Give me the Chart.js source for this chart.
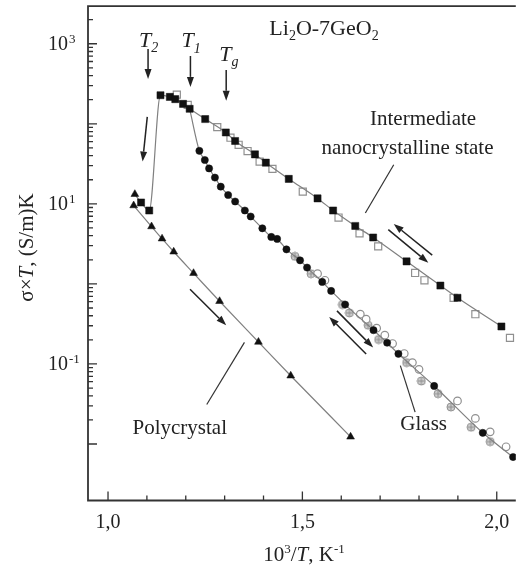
<!DOCTYPE html>
<html>
<head>
<meta charset="utf-8">
<script src="https://cdn.jsdelivr.net/npm/chart.js@4.4.0/dist/chart.umd.min.js"></script>
<style>
  body { margin: 0; background: #fff; }
</style>
</head>
<body>
<canvas id="chart" width="522" height="571"></canvas>
<script>
// Li2O-7GeO2 : sigma*T against 1000/T

// intermediate nanocrystalline state, heating (filled squares, with line)
// first point is the upper triangle where the transition curve starts
const heatSqX = [1.069, 1.085, 1.106, 1.135, 1.159, 1.173, 1.193, 1.210, 1.250, 1.303, 1.327, 1.378, 1.406, 1.465, 1.539, 1.579, 1.636, 1.682, 1.768, 1.855, 1.899, 2.012];
const heatSqY = [13.2, 10.4, 8.26, 227.5, 216.8, 203.2, 177.4, 153.8, 114.6, 78.0, 61.0, 41.5, 32.7, 20.5, 11.7, 8.26, 5.30, 3.80, 1.91, 0.953, 0.671, 0.294];

// intermediate state, cooling (open squares)
const coolSqX = [1.177, 1.205, 1.281, 1.315, 1.336, 1.359, 1.390, 1.423, 1.501, 1.593, 1.647, 1.695, 1.790, 1.814, 1.889, 1.945, 2.034];
const coolSqY = [231.7, 172.6, 91.0, 67.0, 54.7, 45.7, 33.7, 27.3, 14.2, 6.75, 4.27, 2.94, 1.37, 1.11, 0.671, 0.418, 0.212];

// glass (filled circles, with line) - line starts at the T1 square
const glassX = [1.210, 1.235, 1.249, 1.260, 1.275, 1.290, 1.309, 1.327, 1.352, 1.367, 1.397, 1.420, 1.435, 1.459, 1.494, 1.512, 1.551, 1.574, 1.610, 1.683, 1.718, 1.747, 1.839, 1.964, 2.042];
const glassY = [153.8, 46.0, 35.3, 27.7, 21.3, 16.4, 12.9, 10.7, 8.26, 6.95, 4.95, 3.86, 3.65, 2.70, 1.97, 1.60, 1.06, 0.817, 0.552, 0.264, 0.184, 0.134, 0.0531, 0.0138, 0.00687];

// glass, other runs (open circles and grey crossed circles)
const glassOpenX = [1.539, 1.558, 1.649, 1.664, 1.691, 1.712, 1.732, 1.762, 1.783, 1.800, 1.899, 1.945, 1.983, 2.024];
const glassOpenY = [1.34, 1.11, 0.418, 0.362, 0.280, 0.229, 0.180, 0.135, 0.104, 0.0857, 0.0345, 0.0209, 0.0142, 0.00923];
const glassHatchX = [1.481, 1.522, 1.603, 1.621, 1.669, 1.696, 1.768, 1.806, 1.849, 1.882, 1.934, 1.983];
const glassHatchY = [2.21, 1.34, 0.552, 0.434, 0.305, 0.202, 0.104, 0.0612, 0.0425, 0.0290, 0.0162, 0.0107];

// polycrystal (triangles, with line)
const polyX = [1.066, 1.112, 1.139, 1.169, 1.220, 1.287, 1.387, 1.470, 1.624];
const polyY = [9.53, 5.21, 3.67, 2.52, 1.36, 0.607, 0.188, 0.0713, 0.0123];

// axes
const xMin = 0.9485, xMax = 2.049;
const yMin = 0.00197, yMax = 2944;
const xTicks = [1.0, 1.1, 1.2, 1.3, 1.4, 1.5, 1.6, 1.7, 1.8, 1.9, 2.0];
const xLabelVals = [1.0, 1.5, 2.0];
const xLabelText = ['1,0', '1,5', '2,0'];
const yDecades = [-2, -1, 0, 1, 2, 3];
const yLabelExps = [3, 1, -1];

// annotations in data units: [x, log10(y)]
const arrowsData = [
  [1.103, 2.934, 1.103, 2.561],   // T2
  [1.212, 2.847, 1.212, 2.461],   // T1
  [1.304, 2.673, 1.304, 2.287],   // Tg
  [1.101, 2.087, 1.089, 1.529],   // down at T2
  [1.834, 0.359, 1.735, 0.749],   // intermediate, cooling
  [1.721, 0.679, 1.824, 0.264],   // intermediate, heating
  [1.664, -0.876, 1.569, -0.412], // glass, up
  [1.589, -0.337, 1.682, -0.794], // glass, down
  [1.211, -0.067, 1.304, -0.517]  // polycrystal
];
const pointerLines = [
  [1.735, 1.488, 1.662, 0.886],
  [1.351, -0.731, 1.254, -1.506],
  [1.752, -1.021, 1.790, -1.602]
];

const FAM = '"Liberation Serif", "Times New Roman", serif';
function font(size, italic) { return (italic ? 'italic ' : '') + size + 'px ' + FAM; }

// runs: [text, size, italic, dy]
function runsWidth(ctx, runs) {
  let w = 0;
  runs.forEach(r => { ctx.font = font(r[1], r[2]); w += ctx.measureText(r[0]).width; });
  return w;
}
function drawRuns(ctx, x, y, runs) {
  runs.forEach(r => {
    ctx.font = font(r[1], r[2]);
    ctx.fillText(r[0], x, y + (r[3] || 0));
    x += ctx.measureText(r[0]).width;
  });
}

const labels = [
  { x: 1.415, ly: 3.104, runs: [['Li', 22], ['2', 14, false, 5], ['O-7GeO', 22], ['2', 14, false, 5]] },
  { x: 1.080, ly: 2.959, runs: [['T', 22, true], ['2', 14, true, 5]] },
  { x: 1.189, ly: 2.955, runs: [['T', 22, true], ['1', 14, true, 6]] },
  { x: 1.286, ly: 2.790, runs: [['T', 22, true], ['g', 14, true, 5]] },
  { x: 1.674, ly: 1.989, runs: [['Intermediate', 21]] },
  { x: 1.549, ly: 1.628, runs: [['nanocrystalline state', 21]] },
  { x: 1.063, ly: -1.879, runs: [['Polycrystal', 21]] },
  { x: 1.752, ly: -1.830, runs: [['Glass', 21]] }
];

function arrow(ctx, x1, y1, x2, y2) {
  const a = Math.atan2(y2 - y1, x2 - x1);
  const L = 10, W = 3.5;
  const bx = x2 - L * Math.cos(a), by = y2 - L * Math.sin(a);
  ctx.beginPath(); ctx.moveTo(x1, y1); ctx.lineTo(bx, by); ctx.stroke();
  ctx.beginPath();
  ctx.moveTo(x2, y2);
  ctx.lineTo(bx + W * Math.sin(a), by - W * Math.cos(a));
  ctx.lineTo(bx - W * Math.sin(a), by + W * Math.cos(a));
  ctx.closePath(); ctx.fill();
}

function hatchDot() {
  const c = document.createElement('canvas');
  c.width = 10; c.height = 10;
  const g = c.getContext('2d');
  g.beginPath(); g.arc(5, 5, 4, 0, Math.PI * 2);
  g.fillStyle = '#d0d0d0'; g.fill();
  g.strokeStyle = '#8e8e8e'; g.lineWidth = 1; g.stroke();
  g.beginPath(); g.moveTo(5, 1.5); g.lineTo(5, 8.5); g.moveTo(1.5, 5); g.lineTo(8.5, 5); g.stroke();
  return c;
}

function pts(xs, ys) { return xs.map((x, i) => ({ x: x, y: ys[i] })); }

const overlay = {
  id: 'overlay',
  afterDraw(chart) {
    const ctx = chart.ctx;
    const xs = chart.scales.x, ys = chart.scales.y;
    const a = chart.chartArea;
    const X = v => xs.getPixelForValue(v);
    const Y = ly => ys.getPixelForValue(Math.pow(10, ly));
    ctx.save();

    // frame
    ctx.strokeStyle = '#333';
    ctx.lineWidth = 1.8;
    ctx.beginPath();
    ctx.moveTo(a.right, a.top); ctx.lineTo(a.left, a.top);
    ctx.lineTo(a.left, a.bottom); ctx.lineTo(a.right, a.bottom);
    ctx.stroke();

    // ticks, pointing inward
    ctx.lineWidth = 1.3;
    ctx.beginPath();
    xTicks.forEach(v => {
      const len = xLabelVals.includes(v) ? 9 : 5;
      ctx.moveTo(X(v), a.bottom); ctx.lineTo(X(v), a.bottom - len);
    });
    yDecades.forEach(e => {
      for (let m = 1; m <= 9; m++) {
        const v = m * Math.pow(10, e);
        if (v < yMin || v > yMax) continue;
        const p = ys.getPixelForValue(v);
        const len = m === 1 ? 9 : 5;
        ctx.moveTo(a.left, p); ctx.lineTo(a.left + len, p);
      }
    });
    ctx.stroke();

    // tick labels
    ctx.fillStyle = '#222';
    ctx.textBaseline = 'alphabetic';
    ctx.font = font(20);
    ctx.textAlign = 'center';
    xLabelVals.forEach((v, i) => ctx.fillText(xLabelText[i], X(v), 528));
    yLabelExps.forEach(e => {
      const p = ys.getPixelForValue(Math.pow(10, e));
      ctx.textAlign = 'right';
      ctx.font = font(20);
      ctx.fillText('10', 68, p + 6);
      ctx.textAlign = 'left';
      ctx.font = font(13);
      ctx.fillText(e < 0 ? '-' + (-e) : String(e), 69, p - 1);
    });
    ctx.textAlign = 'left';

    // axis titles
    const xt = [['10', 21], ['3', 13, false, -8], ['/', 21], ['T', 21, true], [', K', 21], ['-1', 13, false, -8]];
    drawRuns(ctx, 304 - runsWidth(ctx, xt) / 2, 561, xt);
    const yt = [['\u03c3\u00d7', 21], ['T', 21, true], [', (S/m)K', 21]];
    ctx.save();
    ctx.translate(33, 247.5);
    ctx.rotate(-Math.PI / 2);
    drawRuns(ctx, -runsWidth(ctx, yt) / 2, 0, yt);
    ctx.restore();

    // annotations
    labels.forEach(l => drawRuns(ctx, X(l.x), Y(l.ly), l.runs));
    ctx.strokeStyle = '#333';
    ctx.lineWidth = 1.2;
    pointerLines.forEach(s => {
      ctx.beginPath(); ctx.moveTo(X(s[0]), Y(s[1])); ctx.lineTo(X(s[2]), Y(s[3])); ctx.stroke();
    });
    ctx.strokeStyle = '#222';
    ctx.fillStyle = '#222';
    ctx.lineWidth = 1.5;
    arrowsData.forEach(s => arrow(ctx, X(s[0]), Y(s[1]), X(s[2]), Y(s[3])));
    ctx.restore();
  }
};

const lineCol = '#808080';

new Chart(document.getElementById('chart'), {
  type: 'scatter',
  data: {
    datasets: [
      {
        data: pts(heatSqX, heatSqY),
        showLine: true,
        cubicInterpolationMode: 'monotone',
        borderColor: lineCol,
        borderWidth: 1.2,
        pointStyle: c => c.dataIndex === 0 ? 'triangle' : 'rect',
        pointRadius: c => c.dataIndex === 0 ? 4.5 : 5,
        pointBackgroundColor: '#111',
        pointBorderColor: '#111',
        pointBorderWidth: 0.5
      },
      {
        data: pts(glassX, glassY),
        showLine: true,
        cubicInterpolationMode: 'monotone',
        borderColor: lineCol,
        borderWidth: 1.2,
        pointStyle: 'circle',
        pointRadius: c => c.dataIndex === 0 ? 0 : 3.6,
        pointBackgroundColor: '#111',
        pointBorderColor: '#111',
        pointBorderWidth: 0.5
      },
      {
        data: pts(polyX, polyY),
        showLine: true,
        cubicInterpolationMode: 'monotone',
        borderColor: lineCol,
        borderWidth: 1.2,
        pointStyle: 'triangle',
        pointRadius: 4.5,
        pointBackgroundColor: '#111',
        pointBorderColor: '#111',
        pointBorderWidth: 0.5
      },
      {
        data: pts(coolSqX, coolSqY),
        pointStyle: 'rect',
        pointRadius: 5,
        pointBackgroundColor: '#fff',
        pointBorderColor: '#909090',
        pointBorderWidth: 1.2
      },
      {
        data: pts(glassOpenX, glassOpenY),
        pointStyle: 'circle',
        pointRadius: 3.8,
        pointBackgroundColor: '#fff',
        pointBorderColor: '#909090',
        pointBorderWidth: 1.2
      },
      {
        data: pts(glassHatchX, glassHatchY),
        pointStyle: hatchDot(),
        pointRadius: 4
      }
    ]
  },
  options: {
    responsive: false,
    animation: false,
    events: [],
    layout: { padding: { left: 88, right: 0, top: 4, bottom: 70.5 } },
    plugins: { legend: { display: false }, tooltip: { enabled: false } },
    scales: {
      x: { type: 'linear', min: xMin, max: xMax, display: false },
      y: { type: 'logarithmic', min: yMin, max: yMax, display: false }
    }
  },
  plugins: [overlay]
});
</script>
</body>
</html>
